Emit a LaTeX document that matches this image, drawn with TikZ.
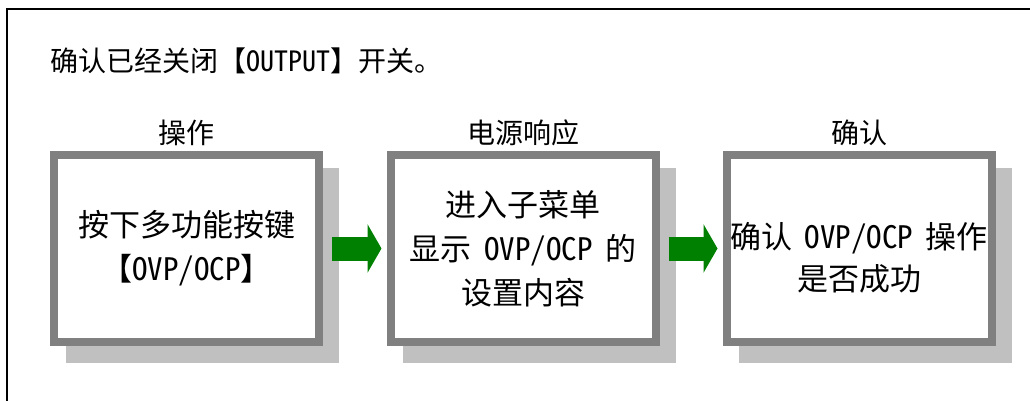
\documentclass[tikz,border=0pt]{standalone}
\usepackage{fontspec}
\setmainfont[WordSpace=0.8]{Noto Sans Mono CJK SC}
\usetikzlibrary{arrows.meta,backgrounds}
\definecolor{bordergray}{HTML}{808080}
\definecolor{shadegray}{HTML}{C0C0C0}
\definecolor{arrowgreen}{HTML}{008000}
\begin{document}
\begin{tikzpicture}[x=1pt,y=-1pt,
  stepbox/.style={draw=bordergray, line width=8pt, fill=white, minimum width=265pt, minimum height=187pt, inner sep=0pt, outer sep=4pt, align=center, font=\fontsize{31}{44}\selectfont},
  boxtext/.style={align=center, inner sep=0pt, font=\fontsize{31}{42}\selectfont},
  head/.style={font=\fontsize{28}{32}\selectfont, inner sep=0pt},
  flow/.style={line width=24pt, arrowgreen, -{Triangle[length=14pt,width=48pt]}}]
\useasboundingbox (0,0) rectangle (1030,401);
\draw[line width=2pt] (6.5,403) -- (6.5,9) -- (1032,9);
\node[head, anchor=west] (title) at (50,61) {确认已经关闭【OUTPUT】开关。};
\node[stepbox] (b1) at (186.5,248.5) {按下多功能按键\\【OVP/OCP】};
\node[stepbox] (b2) at (523,248.5) {进入子菜单\\显示 OVP/OCP 的\\设置内容};
\node[stepbox, label={[boxtext,yshift=-9pt]center:{确认 OVP/OCP 操作\\是否成功}}] (b3) at (859,248.5) {};
\node[head] (h1) at ([yshift=18pt]b1.north) {操作};
\node[head] (h2) at ([yshift=18pt]b2.north) {电源响应};
\node[head] (h3) at ([yshift=18pt]b3.north) {确认};
\begin{scope}[on background layer]
\foreach \b in {b1,b2,b3}
  \fill[shadegray] ([shift={(16pt,-16.5pt)}]\b.north west) rectangle ([shift={(16pt,-16.5pt)}]\b.south east);
\end{scope}
\draw[flow] ([xshift=9pt]b1.east) -- ([xshift=-5pt]b2.west);
\draw[flow] ([xshift=9pt]b2.east) -- ([xshift=-5pt]b3.west);
\end{tikzpicture}
\end{document}
